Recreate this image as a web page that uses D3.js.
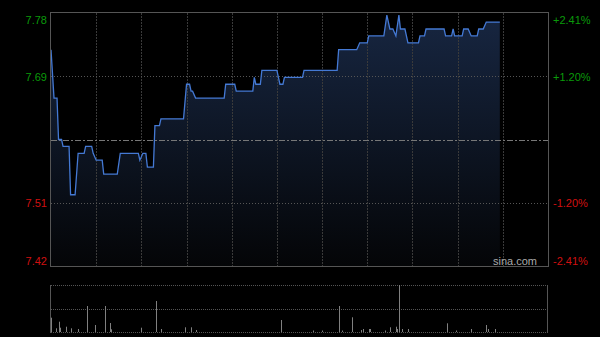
<!DOCTYPE html>
<html>
<head>
<meta charset="utf-8">
<script src="https://cdn.jsdelivr.net/npm/d3@7"></script>
<style>
  body { margin: 0; background: #000; }
  svg { display: block; }
</style>
</head>
<body>
<div id="chart"></div>
<script>
// data
var prevClose = 7.60
var priceTimes = ["09:30","09:32","09:34","09:35","09:37","09:38","09:42","09:43","09:46","09:48",
  "09:52","09:53","09:57","09:58","10:00","10:04","10:05","10:14","10:16","10:28",
  "10:29","10:31","10:33","10:34","10:38","10:39","10:42","10:43","10:58","11:00",
  "11:02","11:03","11:04","11:06","11:25","11:26","11:32","11:33","11:44","11:45",
  "11:46","11:49","11:50","12:00","13:02","13:04","13:05","13:17","13:18","13:40",
  "13:41","13:53","13:55","14:00","14:01","14:11","14:13","14:15","14:17","14:19",
  "14:21","14:22","14:25","14:27","14:34","14:35","14:38","14:39","14:51","14:52",
  "14:56","14:57","14:58","15:03","15:04","15:07","15:09","15:13","15:14","15:17",
  "15:19","15:28"]
var prices = [7.73,7.66,7.66,7.60,7.60,7.59,7.59,7.52,7.52,7.58,
  7.58,7.59,7.59,7.58,7.57,7.57,7.55,7.55,7.58,7.58,
  7.57,7.58,7.58,7.56,7.56,7.62,7.62,7.63,7.63,7.68,
  7.68,7.67,7.67,7.66,7.66,7.68,7.68,7.67,7.67,7.69,
  7.68,7.68,7.70,7.70,7.68,7.68,7.69,7.69,7.70,7.70,
  7.73,7.73,7.74,7.74,7.75,7.75,7.78,7.76,7.76,7.75,
  7.78,7.76,7.76,7.74,7.74,7.75,7.75,7.76,7.76,7.75,
  7.75,7.76,7.75,7.75,7.76,7.76,7.75,7.75,7.76,7.76,
  7.77,7.77]

var volTimes = ["09:30","09:33","09:35","09:36","09:40","09:43","09:48","09:54","09:59","10:06",
  "10:09","10:10","10:30","10:40","10:43","10:59","11:03","11:06","13:03","13:24",
  "13:30","13:41","13:43","13:50","13:56","13:57","14:01","14:02","14:12","14:15",
  "14:19","14:20","14:21","14:23","14:27","14:53","14:59","15:09","15:19","15:20","15:25"]
var volumes = [28600,7400,20600,8600,10600,7400,6000,52000,14000,52000,
  18000,5400,8600,62000,6000,9400,9400,4000,24000,3000,
  3000,52000,3000,29400,4000,6000,6000,6000,3000,9400,
  10600,6000,94000,6000,6000,17400,3000,6000,14000,6000,6000]

var leftLabels = ["7.78","7.69","","7.51","7.42"]
var rightLabels = ["+2.41%","+1.20%","","-1.20%","-2.41%"]

var screen = {width: 600, height: 337}
var plot = {left: 51, right: 548, top: 13, bottom: 266}
var vplot = {top: 285, bottom: 332}

// minutes since open, lunch break folded out
function toMinute(t) {
  var p = t.split(":"), m = (+p[0]) * 60 + (+p[1])
  if (m <= 12 * 60) return m - (9 * 60 + 30)
  return 150 + m - 13 * 60
}

var yTop = prevClose * 1.0241, yBot = prevClose * (1 - 0.0241)
var yTicks = [yTop, (yTop + prevClose) / 2, prevClose, (prevClose + yBot) / 2, yBot]

var xScale = d3.scaleLinear().domain([0, 330]).range([plot.left, plot.right])
var yScale = d3.scaleLinear().domain([yBot, yTop]).range([plot.bottom, plot.top])
var vScale = d3.scaleLinear().domain([0, d3.max(volumes)]).range([vplot.bottom, vplot.top])

var data = priceTimes.map(function(t, i) { return {m: toMinute(t), p: prices[i]} })
var vdata = volTimes.map(function(t, i) { return {m: toMinute(t), v: volumes[i]} })

var svg = d3.select("#chart").append("svg")
  .attr("width", screen.width)
  .attr("height", screen.height)
  .style("background", "#000")

var defs = svg.append("defs")
var grad = defs.append("linearGradient").attr("id", "fill")
  .attr("x1", 0).attr("y1", 0).attr("x2", 0).attr("y2", 1)
grad.append("stop").attr("offset", "0%").attr("stop-color", "#172641")
grad.append("stop").attr("offset", "100%").attr("stop-color", "#040507")

// area + line
var area = d3.area()
  .x(function(d) { return xScale(d.m) })
  .y0(plot.bottom)
  .y1(function(d) { return yScale(d.p) })
var line = d3.line()
  .x(function(d) { return xScale(d.m) })
  .y(function(d) { return yScale(d.p) })

svg.append("path").attr("d", area(data)).attr("fill", "url(#fill)")

// vertical grid
var xTicks = d3.range(30, 330, 30)
svg.append("g").selectAll("line").data(xTicks).enter().append("line")
  .attr("x1", function(d) { return Math.round(xScale(d)) + 0.5 })
  .attr("x2", function(d) { return Math.round(xScale(d)) + 0.5 })
  .attr("y1", plot.top).attr("y2", plot.bottom)
  .attr("stroke", "#3a3a3a").attr("stroke-dasharray", "2,1")

// horizontal grid
svg.append("g").selectAll("line").data([yTicks[1], yTicks[3]]).enter().append("line")
  .attr("x1", plot.left).attr("x2", plot.right)
  .attr("y1", function(d) { return Math.round(yScale(d)) + 0.5 })
  .attr("y2", function(d) { return Math.round(yScale(d)) + 0.5 })
  .attr("stroke", "#555").attr("stroke-dasharray", "1,2")
svg.append("line")
  .attr("x1", plot.left).attr("x2", plot.right)
  .attr("y1", Math.round(yScale(prevClose)) + 0.5).attr("y2", Math.round(yScale(prevClose)) + 0.5)
  .attr("stroke", "#777").attr("stroke-dasharray", "6,2,2,2")

svg.append("path").attr("d", line(data))
  .attr("fill", "none").attr("stroke", "#4479d4").attr("stroke-width", 1.3)

// frame
svg.append("rect")
  .attr("x", plot.left - 0.5).attr("y", plot.top - 0.5)
  .attr("width", plot.right - plot.left + 1).attr("height", plot.bottom - plot.top + 1)
  .attr("fill", "none").attr("stroke", "#555")

// axes labels
var colors = ["#0a9a0a", "#0a9a0a", "#888", "#d01010", "#d01010"]
var axisL = d3.axisLeft(yScale).tickValues(yTicks).tickSize(0).tickPadding(4)
  .tickFormat(function(d, i) { return leftLabels[i] })
var axisR = d3.axisRight(yScale).tickValues(yTicks).tickSize(0).tickPadding(5)
  .tickFormat(function(d, i) { return rightLabels[i] })

var gl = svg.append("g").attr("transform", "translate(" + plot.left + ",0)").call(axisL)
var gr = svg.append("g").attr("transform", "translate(" + plot.right + ",0)").call(axisR)
;[gl, gr].forEach(function(g) {
  g.select(".domain").remove()
  g.selectAll("text")
    .style("font-family", "Arial, 'Liberation Sans', sans-serif")
    .style("font-size", "11px")
    .attr("fill", function(d, i) { return colors[i] })
    .attr("dy", function(d, i) { return i == 0 ? "0.95em" : (i == 4 ? "-0.15em" : "0.35em") })
})

svg.append("text")
  .attr("x", 537).attr("y", 265)
  .attr("text-anchor", "end")
  .style("font-family", "Arial, 'Liberation Sans', sans-serif")
  .style("font-size", "11px")
  .attr("fill", "#aaa")
  .text("sina.com")

// volume panel
var vg = svg.append("g")
vg.selectAll("line.grid").data([vplot.top, (vplot.top + vplot.bottom) / 2, vplot.bottom]).enter()
  .append("line").attr("class", "grid")
  .attr("x1", plot.left).attr("x2", plot.right)
  .attr("y1", function(d) { return Math.round(d) + 0.5 })
  .attr("y2", function(d) { return Math.round(d) + 0.5 })
  .attr("stroke", "#555").attr("stroke-dasharray", "1,1")
vg.selectAll("line.side").data([plot.left, plot.right]).enter()
  .append("line").attr("class", "side")
  .attr("x1", function(d) { return d - 0.5 }).attr("x2", function(d) { return d - 0.5 })
  .attr("y1", vplot.top).attr("y2", vplot.bottom + 1)
  .attr("stroke", "#555")

vg.selectAll("rect.bar").data(vdata).enter()
  .append("rect").attr("class", "bar")
  .attr("x", function(d) { return Math.round(xScale(d.m)) })
  .attr("y", function(d) { return vScale(d.v) })
  .attr("width", 1)
  .attr("height", function(d) { return vplot.bottom - vScale(d.v) })
  .attr("fill", "#808080")
</script>
</body>
</html>
